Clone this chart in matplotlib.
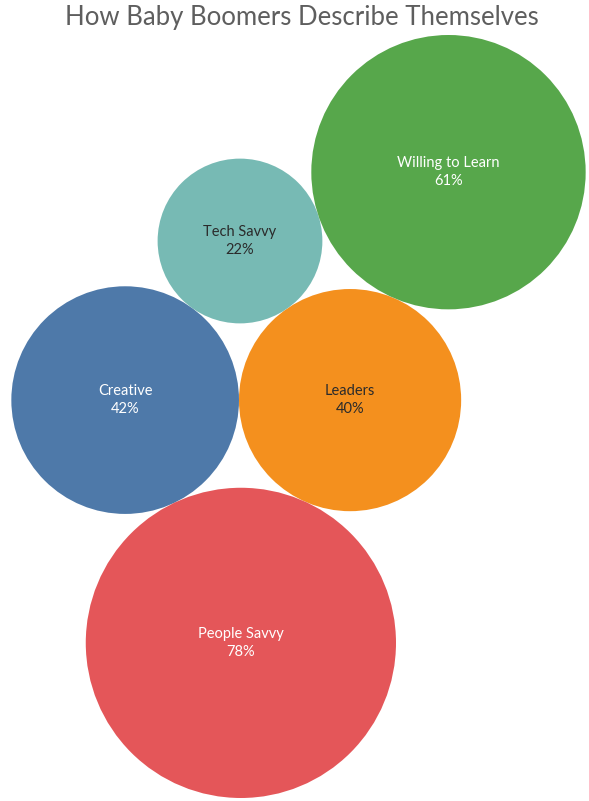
import numpy as np
import matplotlib.pyplot as plt
from matplotlib.patches import Circle

# ==================================
# DATA
# ==================================
categories = ["Creative", "Leaders", "Tech Savvy", "Willing to Learn", "People Savvy"]
values = [42, 40, 22, 61, 78]

colors = ["#4E79A9", "#F4901E", "#77BAB4", "#57A74B", "#E45659"]
text_colors = ["white", "#2b2b2b", "#2b2b2b", "white", "white"]

# ==================================
# PACK BUBBLES (area ~ value)
# ==================================
radii = np.sqrt(np.array(values, dtype=float))


def tangent_to(a, ra, b, rb, r, side):
    # centre of a circle of radius r touching circles a and b
    da, db = ra + r, rb + r
    d = np.linalg.norm(b - a)
    u = (b - a) / d
    x = (da**2 - db**2 + d**2) / (2 * d)
    h = np.sqrt(max(da**2 - x**2, 0))
    n = np.array([-u[1], u[0]])
    return a + u * x + side * n * h


centers = [None] * 5
centers[0] = np.array([0.0, 0.0])
centers[1] = np.array([radii[0] + radii[1], 0.0])
# tech savvy sits above creative / leaders
centers[2] = tangent_to(centers[0], radii[0], centers[1], radii[1], radii[2], 1)
# willing to learn sits against tech savvy and leaders
centers[3] = tangent_to(centers[2], radii[2], centers[1], radii[1], radii[3], 1)
# people savvy sits below creative / leaders
centers[4] = tangent_to(centers[0], radii[0], centers[1], radii[1], radii[4], -1)

# ==================================
# PLOT
# ==================================
fig = plt.figure(figsize=(5.89, 8.01), dpi=100)
ax = fig.add_axes([9 / 589, 3 / 801, 579 / 589, 763 / 801])

for c, r, col in zip(centers, radii, colors):
    ax.add_patch(Circle(c, r, facecolor=col, edgecolor="none"))

for c, name, v, tc in zip(centers, categories, values, text_colors):
    ax.text(c[0], c[1], f"{name}\n{v}%", ha="center", va="center",
            color=tc, fontsize=10.5, family="Lato", linespacing=1.35)

xs = np.array([c[0] for c in centers])
ys = np.array([c[1] for c in centers])
ax.set_xlim((xs - radii).min(), (xs + radii).max())
ax.set_ylim((ys - radii).min(), (ys + radii).max())
ax.set_aspect("equal")
ax.axis("off")

fig.text(0.512, 1 - 17 / 801, "How Baby Boomers Describe Themselves",
         ha="center", va="center", fontsize=18.5, color="#5e5e5e",
         family="Lato")

fig.savefig("out.png", dpi=100)
